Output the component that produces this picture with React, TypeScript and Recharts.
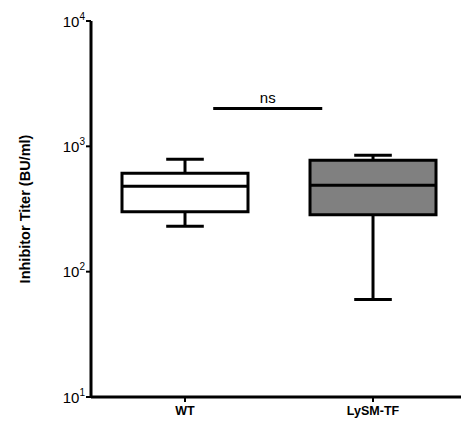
import React from 'react';
import { ComposedChart, Bar, Cell, XAxis, YAxis, ReferenceLine } from 'recharts';

// groups and box plot summary values (BU/ml)
const groups = ['WT', 'LySM-TF'];
const positions = [1, 2];
const whiskerLow = [230, 60];
const q1 = [300, 285];
const median = [480, 490];
const q3 = [610, 775];
const whiskerHigh = [790, 850];
const boxFill = ['#ffffff', '#808080'];
const yTicks = [10, 100, 1000, 10000];

// significance bar between groups
const sigFrom = 1.15;
const sigTo = 1.73;
const sigValue = 2000;
const sigText = 'ns';

const FONT = '"Liberation Sans", Arial, Helvetica, sans-serif';
const BOX_HALF = 0.335;
const CAP_HALF = 0.1;

const data = groups.map((name, i) => ({
  name,
  pos: positions[i],
  min: whiskerLow[i],
  q1: q1[i],
  median: median[i],
  q3: q3[i],
  max: whiskerHigh[i],
}));

const YTick = ({ x, y, payload }: any) => (
  <text x={x} y={y} dy={5.5} textAnchor="end" fontFamily={FONT} fontSize={15} fill="#000">
    10
    <tspan dy={-7} fontSize={10}>{Math.round(Math.log10(payload.value))}</tspan>
  </text>
);

export default function App() {
  const seg = { stroke: '#000', strokeWidth: 3, ifOverflow: 'visible' as const };
  return (
    <div style={{ position: 'absolute', left: 0, top: 0, background: '#fff' }}>
      <ComposedChart width={461} height={430} data={data} margin={{ top: 21, right: 0, bottom: 0, left: 0 }}>
        <XAxis
          dataKey="pos"
          type="number"
          domain={[0.5, 2.468]}
          allowDataOverflow
          ticks={positions}
          tickFormatter={(v) => groups[positions.indexOf(v)]}
          height={33}
          axisLine={{ stroke: '#000', strokeWidth: 3 }}
          tickLine={{ stroke: '#000', strokeWidth: 2 }}
          tickSize={5}
          tickMargin={4}
          tick={{ fill: '#000', fontFamily: FONT, fontSize: 12.5, fontWeight: 'bold' }}
        />
        <YAxis
          scale="log"
          domain={[10, 10000]}
          allowDataOverflow
          ticks={yTicks}
          width={91}
          axisLine={{ stroke: '#000', strokeWidth: 3 }}
          tickLine={{ stroke: '#000', strokeWidth: 2 }}
          tickSize={5}
          tickMargin={1}
          tick={<YTick />}
          label={{
            value: 'Inhibitor Titer (BU/ml)',
            angle: -90,
            position: 'insideLeft',
            offset: 25,
            style: { textAnchor: 'middle', fontFamily: FONT, fontSize: 14.5, fontWeight: 'bold', fill: '#000' },
          }}
        />
        {data.map((d) => (
          <ReferenceLine key={'wl' + d.name} segment={[{ x: d.pos, y: d.min }, { x: d.pos, y: d.q1 }]} {...seg} />
        ))}
        {data.map((d) => (
          <ReferenceLine key={'wh' + d.name} segment={[{ x: d.pos, y: d.q3 }, { x: d.pos, y: d.max }]} {...seg} />
        ))}
        {data.map((d) => (
          <ReferenceLine key={'cl' + d.name} segment={[{ x: d.pos - CAP_HALF, y: d.min }, { x: d.pos + CAP_HALF, y: d.min }]} {...seg} />
        ))}
        {data.map((d) => (
          <ReferenceLine key={'ch' + d.name} segment={[{ x: d.pos - CAP_HALF, y: d.max }, { x: d.pos + CAP_HALF, y: d.max }]} {...seg} />
        ))}
        <Bar
          dataKey={(d: any) => [d.q1, d.q3]}
          barSize={126}
          stroke="#000"
          strokeWidth={3}
          isAnimationActive={false}
        >
          {data.map((d, i) => (
            <Cell key={d.name} fill={boxFill[i]} />
          ))}
        </Bar>
        {data.map((d) => (
          <ReferenceLine key={'md' + d.name} segment={[{ x: d.pos - BOX_HALF, y: d.median }, { x: d.pos + BOX_HALF, y: d.median }]} {...seg} />
        ))}
        <ReferenceLine
          segment={[{ x: sigFrom, y: sigValue }, { x: sigTo, y: sigValue }]}
          {...seg}
          label={{ value: sigText, position: 'top', offset: 6, fill: '#000', fontFamily: FONT, fontSize: 15 }}
        />
      </ComposedChart>
    </div>
  );
}
